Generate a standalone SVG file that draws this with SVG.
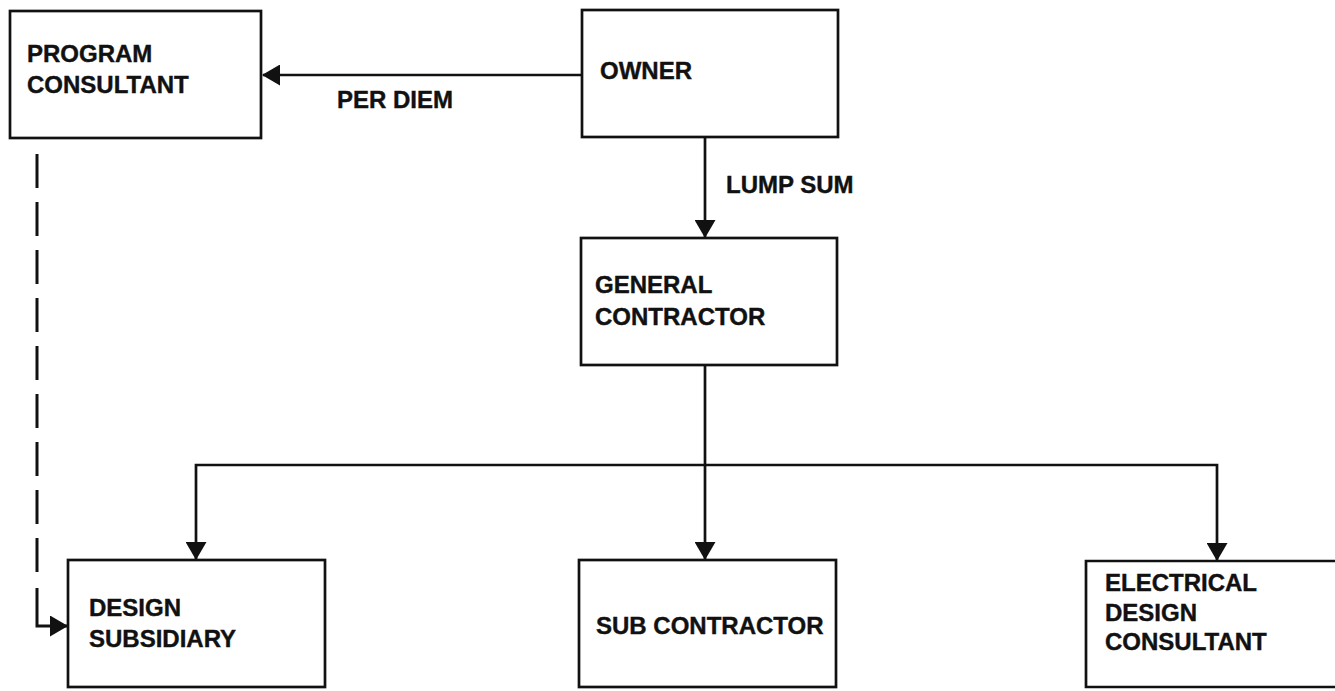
<svg xmlns="http://www.w3.org/2000/svg" width="1335" height="691" viewBox="0 0 1335 691">
<style>
.box{fill:none;stroke:#111;stroke-width:2.7}
.lbl{font-family:"Liberation Sans",Arial,sans-serif;font-weight:bold;font-size:24px;fill:#111;stroke:#111;stroke-width:0.4}
.ln{fill:none;stroke:#111;stroke-width:2.7}
.dash{fill:none;stroke:#111;stroke-width:3;stroke-dasharray:34 14}
</style>
<defs>
<marker id="ah" markerUnits="userSpaceOnUse" markerWidth="18" markerHeight="21" viewBox="0 0 18 21" refX="17" refY="10.5" orient="auto">
<path d="M0,0 L18,10.5 L0,21 Z" fill="#111"/>
</marker>
</defs>
<rect width="1335" height="691" fill="#fff"/>
<g id="connectors">
<path class="ln" d="M582,75 H263" marker-end="url(#ah)"/>
<path class="ln" d="M705,137 V237" marker-end="url(#ah)"/>
<path class="ln" d="M705,365 V559" marker-end="url(#ah)"/>
<path class="ln" d="M705,465 H196 V559" marker-end="url(#ah)"/>
<path class="ln" d="M705,465 H1217 V560" marker-end="url(#ah)"/>
<path class="dash" d="M37,154 V572"/>
<path class="ln" d="M37,588 V626 H67" style="stroke-width:3" marker-end="url(#ah)"/>
<text class="lbl" x="337" y="108">PER DIEM</text>
<text class="lbl" x="726" y="193">LUMP SUM</text>
</g>
<g id="program-consultant">
<rect class="box" x="10" y="11" width="251" height="127"/>
<text class="lbl" x="27" y="62">PROGRAM</text>
<text class="lbl" x="27" y="93">CONSULTANT</text>
</g>
<g id="owner">
<rect class="box" x="582" y="10" width="256" height="127"/>
<text class="lbl" x="600" y="79">OWNER</text>
</g>
<g id="general-contractor">
<rect class="box" x="581" y="238" width="256" height="127"/>
<text class="lbl" x="595" y="293">GENERAL</text>
<text class="lbl" x="595" y="325">CONTRACTOR</text>
</g>
<g id="design-subsidiary">
<rect class="box" x="68" y="560" width="257" height="127"/>
<text class="lbl" x="89" y="616">DESIGN</text>
<text class="lbl" x="89" y="647">SUBSIDIARY</text>
</g>
<g id="sub-contractor">
<rect class="box" x="579" y="560" width="257" height="127"/>
<text class="lbl" x="596" y="634">SUB CONTRACTOR</text>
</g>
<g id="electrical-design-consultant">
<path class="box" d="M1340,561 H1086 V687 H1340"/>
<text class="lbl" x="1105" y="591">ELECTRICAL</text>
<text class="lbl" x="1105" y="621">DESIGN</text>
<text class="lbl" x="1105" y="650">CONSULTANT</text>
</g>
</svg>
